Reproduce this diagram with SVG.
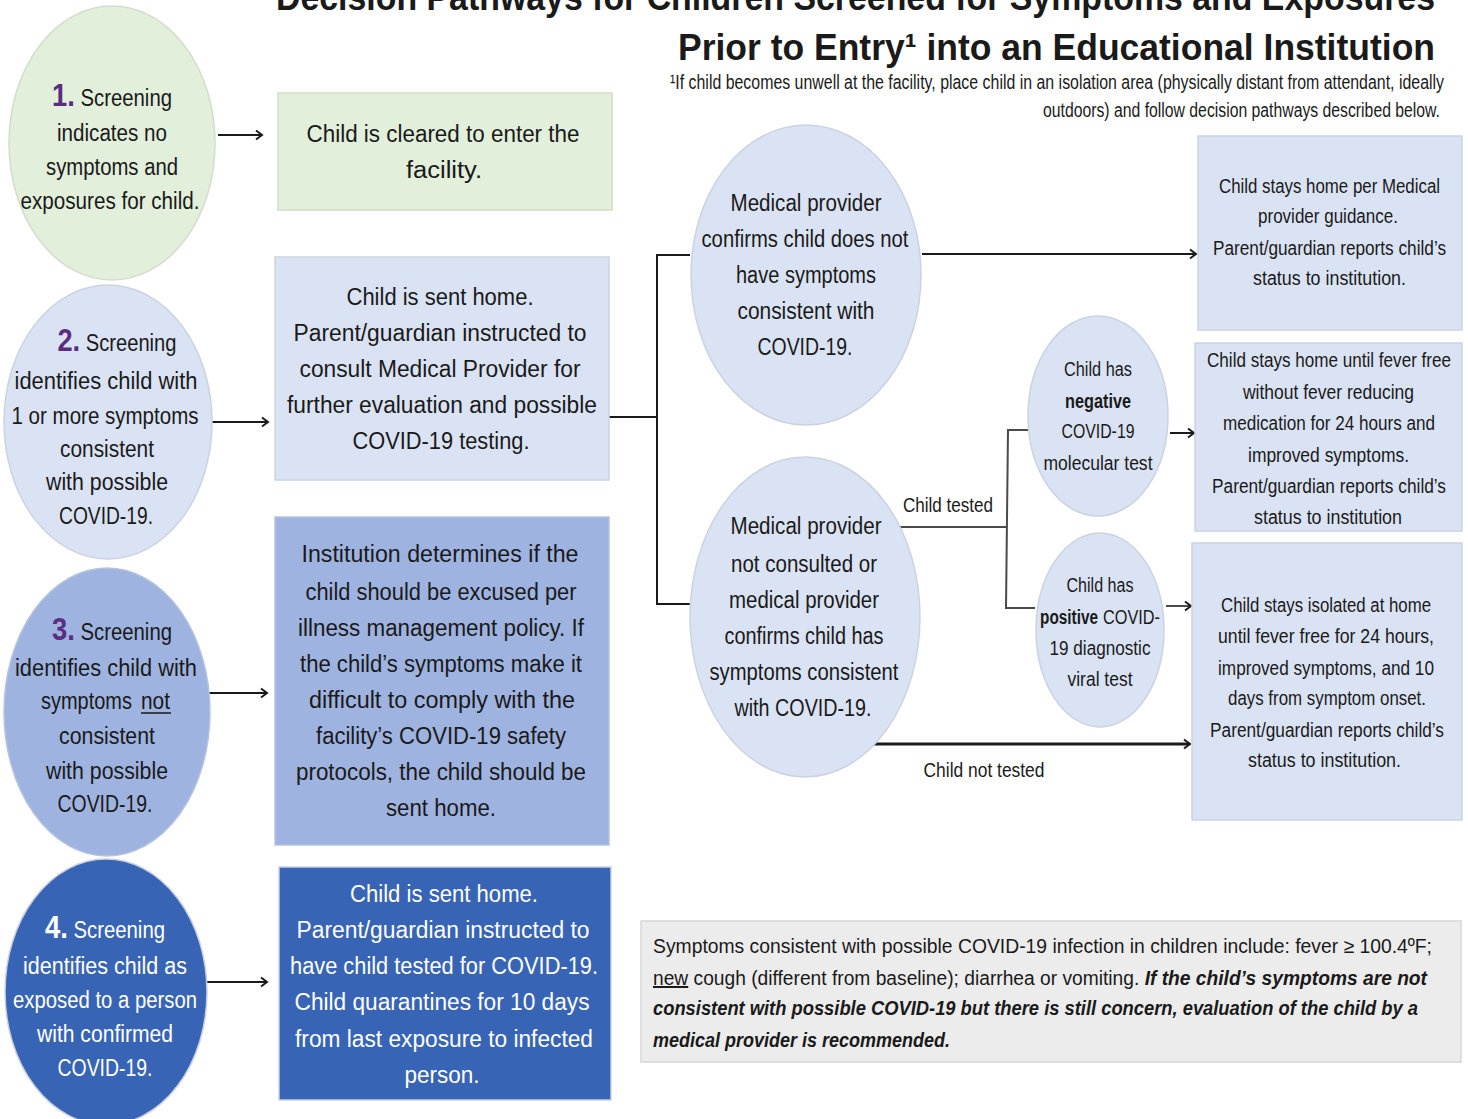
<svg xmlns="http://www.w3.org/2000/svg" width="1468" height="1119" viewBox="0 0 1468 1119">
<style>
text{font-family:"Liberation Sans",Arial,sans-serif;fill:#1a1a1a;}
.t{font-size:23px;text-anchor:middle;}
.s{font-size:20px;text-anchor:middle;}
.r{font-size:20px;text-anchor:end;}
.f{font-size:20px;}
.w{fill:#ffffff;}
.num{font-size:31px;font-weight:bold;fill:#5a2d82;}
.numw{font-size:31px;font-weight:bold;fill:#ffffff;}
.title{font-size:37px;font-weight:bold;}
.green{fill:#e2efda;stroke:#d3ddcc;stroke-width:1.5;}
.lb{fill:#dae3f3;stroke:#ccd3e0;stroke-width:1.5;}
.mb{fill:#9eb3df;stroke:#b6c3dd;stroke-width:1.5;}
.db{fill:#3864b6;stroke:#c8d0e0;stroke-width:1.5;}
.gr{fill:#ececec;stroke:#d6d6d6;stroke-width:1.5;}
.c{fill:none;stroke:#1a1a1a;stroke-width:2;}
.cg{fill:none;stroke:#4a4a4a;stroke-width:2;}
.ct{fill:none;stroke:#1a1a1a;stroke-width:3;}
</style>
<defs>
<marker id="ah" markerUnits="userSpaceOnUse" markerWidth="14" markerHeight="14" refX="9" refY="6" orient="auto">
<path d="M3,1.5 L9,6 L3,10.5" fill="none" stroke="#1a1a1a" stroke-width="2"/>
</marker>
</defs>
<rect width="1468" height="1119" fill="#ffffff"/>

<g id="title">
<text class="title" x="276" y="10" textLength="1159" lengthAdjust="spacingAndGlyphs">Decision Pathways for Children Screened for Symptoms and Exposures</text>
<text class="title" x="1435" y="60" style="text-anchor:end" textLength="757" lengthAdjust="spacingAndGlyphs">Prior to Entry¹ into an Educational Institution</text>
<text class="r" x="1444" y="89" textLength="774" lengthAdjust="spacingAndGlyphs">¹If child becomes unwell at the facility, place child in an isolation area (physically distant from attendant, ideally</text>
<text class="r" x="1440" y="117" textLength="397" lengthAdjust="spacingAndGlyphs">outdoors) and follow decision pathways described below.</text>
</g>

<g id="connectors">
<line class="c" x1="218" y1="135" x2="262" y2="135" marker-end="url(#ah)"/>
<line class="c" x1="208" y1="422" x2="268" y2="422" marker-end="url(#ah)"/>
<line class="c" x1="207" y1="693" x2="267" y2="693" marker-end="url(#ah)"/>
<line class="c" x1="207" y1="982" x2="267" y2="982" marker-end="url(#ah)"/>
<polyline class="c" points="609,417 657,417"/>
<polyline class="c" points="690,255 657,255 657,604 690,604"/>
<line class="c" x1="922" y1="254" x2="1196" y2="254" marker-end="url(#ah)"/>
<polyline class="cg" points="900,527 1006,527"/>
<polyline class="cg" points="1028,430 1008,430 1006,608 1035,608"/>
<line class="c" x1="1170" y1="433" x2="1194" y2="433" marker-end="url(#ah)"/>
<line class="cg" x1="1166" y1="606" x2="1191" y2="606" marker-end="url(#ah)"/>
<line class="ct" x1="873" y1="744" x2="1190" y2="744" marker-end="url(#ah)"/>
<text class="s" x="948" y="512" textLength="90" lengthAdjust="spacingAndGlyphs">Child tested</text>
<text class="s" x="984" y="777" textLength="121" lengthAdjust="spacingAndGlyphs">Child not tested</text>
</g>

<g id="screen1">
<ellipse class="green" cx="112" cy="143" rx="103" ry="137"/>
<text class="t" x="112" y="106" textLength="120" lengthAdjust="spacingAndGlyphs"><tspan class="num">1.</tspan> Screening</text>
<text class="t" x="112" y="141" textLength="110" lengthAdjust="spacingAndGlyphs">indicates no</text>
<text class="t" x="112" y="175" textLength="132" lengthAdjust="spacingAndGlyphs">symptoms and</text>
<text class="t" x="110" y="209" textLength="179" lengthAdjust="spacingAndGlyphs">exposures for child.</text>
</g>

<g id="screen2">
<ellipse class="lb" cx="108" cy="422" rx="104" ry="137"/>
<text class="t" x="117" y="351" textLength="119" lengthAdjust="spacingAndGlyphs"><tspan class="num">2.</tspan> Screening</text>
<text class="t" x="106" y="389" textLength="183" lengthAdjust="spacingAndGlyphs">identifies child with</text>
<text class="t" x="105" y="424" textLength="187" lengthAdjust="spacingAndGlyphs">1 or more symptoms</text>
<text class="t" x="107" y="457" textLength="94" lengthAdjust="spacingAndGlyphs">consistent</text>
<text class="t" x="107" y="490" textLength="122" lengthAdjust="spacingAndGlyphs">with possible</text>
<text class="t" x="106" y="524" textLength="94" lengthAdjust="spacingAndGlyphs">COVID-19.</text>
</g>

<g id="screen3">
<ellipse class="mb" cx="107" cy="712" rx="103" ry="144"/>
<text class="t" x="112" y="640" textLength="120" lengthAdjust="spacingAndGlyphs"><tspan class="num">3.</tspan> Screening</text>
<text class="t" x="106" y="676" textLength="182" lengthAdjust="spacingAndGlyphs">identifies child with</text>
<text class="t" x="132" y="709" style="text-anchor:end" textLength="91" lengthAdjust="spacingAndGlyphs">symptoms</text>
<text class="t" x="141" y="709" style="text-anchor:start" textLength="29" lengthAdjust="spacingAndGlyphs">not</text>
<line x1="141" y1="713" x2="171" y2="713" stroke="#1a1a1a" stroke-width="1.5"/>
<text class="t" x="107" y="744" textLength="96" lengthAdjust="spacingAndGlyphs">consistent</text>
<text class="t" x="107" y="779" textLength="122" lengthAdjust="spacingAndGlyphs">with possible</text>
<text class="t" x="105" y="812" textLength="95" lengthAdjust="spacingAndGlyphs">COVID-19.</text>
</g>

<g id="screen4">
<ellipse class="db" cx="106" cy="992" rx="101" ry="133"/>
<text class="t w" x="105" y="938" textLength="120" lengthAdjust="spacingAndGlyphs"><tspan class="numw">4.</tspan> Screening</text>
<text class="t w" x="105" y="974" textLength="164" lengthAdjust="spacingAndGlyphs">identifies child as</text>
<text class="t w" x="105" y="1008" textLength="184" lengthAdjust="spacingAndGlyphs">exposed to a person</text>
<text class="t w" x="105" y="1042" textLength="136" lengthAdjust="spacingAndGlyphs">with confirmed</text>
<text class="t w" x="105" y="1076" textLength="95" lengthAdjust="spacingAndGlyphs">COVID-19.</text>
</g>

<g id="box1">
<rect class="green" x="278" y="93" width="334" height="117"/>
<text class="t" x="443" y="142" textLength="273" lengthAdjust="spacingAndGlyphs">Child is cleared to enter the</text>
<text class="t" x="444" y="178" textLength="76" lengthAdjust="spacingAndGlyphs">facility.</text>
</g>

<g id="box2">
<rect class="lb" x="275" y="257" width="334" height="223"/>
<text class="t" x="440" y="305" textLength="187" lengthAdjust="spacingAndGlyphs">Child is sent home.</text>
<text class="t" x="440" y="341" textLength="293" lengthAdjust="spacingAndGlyphs">Parent/guardian instructed to</text>
<text class="t" x="440" y="377" textLength="281" lengthAdjust="spacingAndGlyphs">consult Medical Provider for</text>
<text class="t" x="442" y="413" textLength="310" lengthAdjust="spacingAndGlyphs">further evaluation and possible</text>
<text class="t" x="441" y="449" textLength="177" lengthAdjust="spacingAndGlyphs">COVID-19 testing.</text>
</g>

<g id="box3">
<rect class="mb" x="275" y="517" width="334" height="328"/>
<text class="t" x="440" y="562" textLength="277" lengthAdjust="spacingAndGlyphs">Institution determines if the</text>
<text class="t" x="441" y="600" textLength="271" lengthAdjust="spacingAndGlyphs">child should be excused per</text>
<text class="t" x="441" y="636" textLength="286" lengthAdjust="spacingAndGlyphs">illness management policy. If</text>
<text class="t" x="441" y="672" textLength="282" lengthAdjust="spacingAndGlyphs">the child’s symptoms make it</text>
<text class="t" x="442" y="708" textLength="266" lengthAdjust="spacingAndGlyphs">difficult to comply with the</text>
<text class="t" x="441" y="744" textLength="250" lengthAdjust="spacingAndGlyphs">facility’s COVID-19 safety</text>
<text class="t" x="441" y="780" textLength="290" lengthAdjust="spacingAndGlyphs">protocols, the child should be</text>
<text class="t" x="441" y="816" textLength="110" lengthAdjust="spacingAndGlyphs">sent home.</text>
</g>

<g id="box4">
<rect class="db" x="279" y="867" width="332" height="233"/>
<text class="t w" x="444" y="902" textLength="188" lengthAdjust="spacingAndGlyphs">Child is sent home.</text>
<text class="t w" x="443" y="938" textLength="293" lengthAdjust="spacingAndGlyphs">Parent/guardian instructed to</text>
<text class="t w" x="444" y="974" textLength="308" lengthAdjust="spacingAndGlyphs">have child tested for COVID-19.</text>
<text class="t w" x="442" y="1010" textLength="295" lengthAdjust="spacingAndGlyphs">Child quarantines for 10 days</text>
<text class="t w" x="444" y="1047" textLength="298" lengthAdjust="spacingAndGlyphs">from last exposure to infected</text>
<text class="t w" x="442" y="1083" textLength="75" lengthAdjust="spacingAndGlyphs">person.</text>
</g>

<g id="provider-no">
<ellipse class="lb" cx="806" cy="275" rx="115" ry="150"/>
<text class="t" x="806" y="211" textLength="151" lengthAdjust="spacingAndGlyphs">Medical provider</text>
<text class="t" x="805" y="247" textLength="207" lengthAdjust="spacingAndGlyphs">confirms child does not</text>
<text class="t" x="806" y="283" textLength="140" lengthAdjust="spacingAndGlyphs">have symptoms</text>
<text class="t" x="806" y="319" textLength="137" lengthAdjust="spacingAndGlyphs">consistent with</text>
<text class="t" x="805" y="355" textLength="95" lengthAdjust="spacingAndGlyphs">COVID-19.</text>
</g>

<g id="provider-yes">
<ellipse class="lb" cx="805" cy="617" rx="115" ry="160"/>
<text class="t" x="806" y="534" textLength="151" lengthAdjust="spacingAndGlyphs">Medical provider</text>
<text class="t" x="804" y="572" textLength="146" lengthAdjust="spacingAndGlyphs">not consulted or</text>
<text class="t" x="804" y="608" textLength="150" lengthAdjust="spacingAndGlyphs">medical provider</text>
<text class="t" x="804" y="644" textLength="159" lengthAdjust="spacingAndGlyphs">confirms child has</text>
<text class="t" x="804" y="680" textLength="189" lengthAdjust="spacingAndGlyphs">symptoms consistent</text>
<text class="t" x="803" y="716" textLength="137" lengthAdjust="spacingAndGlyphs">with COVID-19.</text>
</g>

<g id="negative">
<ellipse class="lb" cx="1098" cy="416" rx="70" ry="100"/>
<text class="s" x="1098" y="376" textLength="68" lengthAdjust="spacingAndGlyphs">Child has</text>
<text class="s" x="1098" y="408" font-weight="bold" textLength="66" lengthAdjust="spacingAndGlyphs">negative</text>
<text class="s" x="1098" y="438" textLength="73" lengthAdjust="spacingAndGlyphs">COVID-19</text>
<text class="s" x="1098" y="470" textLength="109" lengthAdjust="spacingAndGlyphs">molecular test</text>
</g>

<g id="positive">
<ellipse class="lb" cx="1100" cy="630" rx="64" ry="97"/>
<text class="s" x="1100" y="592" textLength="67" lengthAdjust="spacingAndGlyphs">Child has</text>
<text class="r" x="1098" y="624" font-weight="bold" textLength="58" lengthAdjust="spacingAndGlyphs">positive</text>
<text class="f" x="1103" y="624" textLength="57" lengthAdjust="spacingAndGlyphs">COVID-</text>
<text class="s" x="1100" y="655" textLength="101" lengthAdjust="spacingAndGlyphs">19  diagnostic</text>
<text class="s" x="1100" y="686" textLength="65" lengthAdjust="spacingAndGlyphs">viral test</text>
</g>

<g id="outcome-home">
<rect class="lb" x="1198" y="136" width="264" height="194"/>
<text class="r" x="1440" y="193" textLength="221" lengthAdjust="spacingAndGlyphs">Child stays home per Medical</text>
<text class="r" x="1398" y="223" textLength="140" lengthAdjust="spacingAndGlyphs">provider guidance.</text>
<text class="r" x="1446" y="255" textLength="233" lengthAdjust="spacingAndGlyphs">Parent/guardian reports child’s</text>
<text class="r" x="1406" y="285" textLength="153" lengthAdjust="spacingAndGlyphs">status to institution.</text>
</g>

<g id="outcome-negative">
<rect class="lb" x="1195" y="343" width="267" height="188"/>
<text class="r" x="1451" y="367" textLength="244" lengthAdjust="spacingAndGlyphs">Child stays home until fever free</text>
<text class="r" x="1414" y="399" textLength="171" lengthAdjust="spacingAndGlyphs">without fever reducing</text>
<text class="r" x="1435" y="430" textLength="212" lengthAdjust="spacingAndGlyphs">medication for 24 hours and</text>
<text class="r" x="1409" y="462" textLength="161" lengthAdjust="spacingAndGlyphs">improved symptoms.</text>
<text class="r" x="1446" y="493" textLength="234" lengthAdjust="spacingAndGlyphs">Parent/guardian reports child’s</text>
<text class="r" x="1402" y="524" textLength="148" lengthAdjust="spacingAndGlyphs">status to institution</text>
</g>

<g id="outcome-positive">
<rect class="lb" x="1192" y="543" width="270" height="277"/>
<text class="r" x="1431" y="612" textLength="210" lengthAdjust="spacingAndGlyphs">Child stays isolated at home</text>
<text class="r" x="1434" y="643" textLength="216" lengthAdjust="spacingAndGlyphs">until fever free for 24  hours,</text>
<text class="r" x="1434" y="675" textLength="216" lengthAdjust="spacingAndGlyphs">improved symptoms, and 10</text>
<text class="r" x="1426" y="705" textLength="198" lengthAdjust="spacingAndGlyphs">days from symptom onset.</text>
<text class="r" x="1444" y="737" textLength="234" lengthAdjust="spacingAndGlyphs">Parent/guardian reports child’s</text>
<text class="r" x="1401" y="767" textLength="153" lengthAdjust="spacingAndGlyphs">status to institution.</text>
</g>

<g id="symptoms-note">
<rect class="gr" x="641" y="921" width="820" height="141"/>
<text class="f" x="653" y="953" textLength="779" lengthAdjust="spacingAndGlyphs">Symptoms consistent with possible COVID-19 infection in children include: fever ≥ 100.4ºF;</text>
<text class="f" x="653" y="985" textLength="774" lengthAdjust="spacingAndGlyphs"><tspan text-decoration="underline">new</tspan> cough (different from baseline); diarrhea or vomiting. <tspan font-style="italic" font-weight="bold">If the child’s symptoms are not</tspan></text>
<text class="f" x="653" y="1015" font-style="italic" font-weight="bold" textLength="765" lengthAdjust="spacingAndGlyphs">consistent with possible COVID-19 but there is still concern, evaluation of the child by a</text>
<text class="f" x="653" y="1047" font-style="italic" font-weight="bold" textLength="297" lengthAdjust="spacingAndGlyphs">medical provider is recommended.</text>
</g>
</svg>
